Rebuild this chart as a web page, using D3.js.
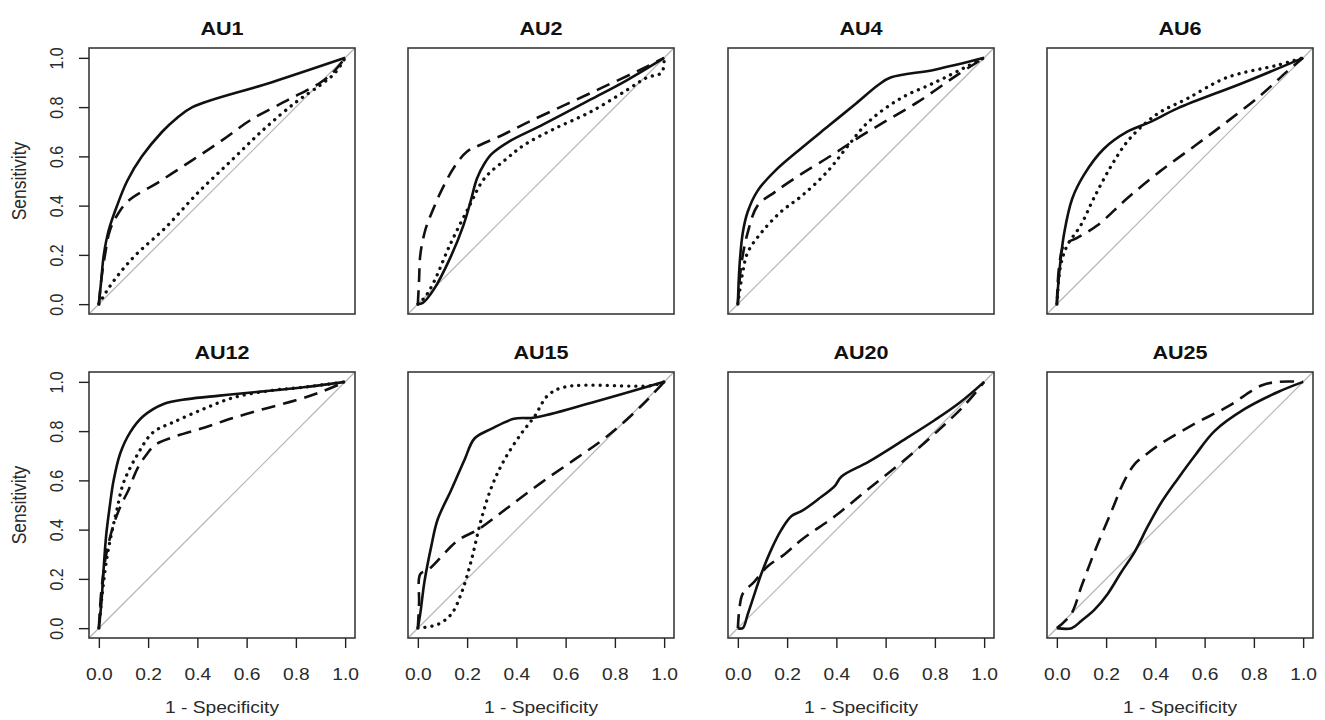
<!DOCTYPE html>
<html>
<head>
<meta charset="utf-8">
<script src="https://cdn.jsdelivr.net/npm/d3@7"></script>
<style>
  body { margin: 0; background: #fff; }
  text { font-family: "Liberation Sans", Arial, sans-serif; }
</style>
</head>
<body>
<div id="chart"></div>
<script>
// ROC curves per action unit: [1 - specificity, sensitivity]
const panelNames = ['AU1', 'AU2', 'AU4', 'AU6', 'AU12', 'AU15', 'AU20', 'AU25'];
const tickValues = [0, 0.2, 0.4, 0.6, 0.8, 1.0];

const au1Solid = [[0,0],[0.01,0.1],[0.02,0.2],[0.04,0.3],[0.074,0.4],[0.115,0.5],[0.175,0.6],[0.257,0.7],[0.31,0.75],[0.38,0.8],[0.7,0.9],[1,1]];
const au1Dashed = [[0,0],[0.01,0.1],[0.025,0.2],[0.045,0.3],[0.08,0.37],[0.12,0.42],[0.25,0.5],[0.38,0.585],[0.5,0.665],[0.62,0.75],[0.77,0.83],[0.9,0.9],[0.95,0.94],[1,1]];
const au1Dotted = [[0,0],[0.03,0.05],[0.08,0.12],[0.15,0.2],[0.27,0.31],[0.4,0.45],[0.54,0.585],[0.67,0.71],[0.8,0.82],[0.9,0.89],[0.96,0.94],[1,1]];

const au2Solid = [[0,0],[0.02,0.005],[0.065,0.06],[0.13,0.185],[0.185,0.32],[0.215,0.42],[0.24,0.51],[0.27,0.57],[0.3,0.61],[0.37,0.66],[0.5,0.725],[0.7,0.83],[0.85,0.91],[1,1]];
const au2Dashed = [[0,0],[0.005,0.1],[0.01,0.2],[0.03,0.3],[0.06,0.38],[0.1,0.47],[0.15,0.56],[0.2,0.62],[0.25,0.645],[0.35,0.69],[0.45,0.74],[0.6,0.81],[0.75,0.88],[0.9,0.95],[1,1]];
const au2Dotted = [[0,0],[0.03,0.03],[0.065,0.09],[0.13,0.24],[0.21,0.4],[0.27,0.51],[0.36,0.59],[0.43,0.645],[0.55,0.71],[0.7,0.78],[0.85,0.87],[0.93,0.92],[0.99,0.94],[1,1]];

const au4Solid = [[0,0],[0.007,0.16],[0.02,0.29],[0.04,0.375],[0.08,0.46],[0.15,0.54],[0.26,0.635],[0.37,0.725],[0.48,0.815],[0.57,0.89],[0.62,0.92],[0.8,0.952],[1,1]];
const au4Dashed = [[0,0],[0.014,0.16],[0.04,0.29],[0.08,0.4],[0.15,0.455],[0.26,0.53],[0.39,0.61],[0.48,0.67],[0.595,0.74],[0.73,0.82],[0.89,0.93],[1,1]];
const au4Dotted = [[0,0],[0.02,0.13],[0.04,0.21],[0.095,0.29],[0.175,0.375],[0.26,0.44],[0.365,0.54],[0.445,0.64],[0.53,0.74],[0.66,0.835],[0.8,0.9],[0.92,0.96],[1,1]];

const au6Solid = [[0,0],[0.01,0.13],[0.03,0.29],[0.063,0.43],[0.11,0.525],[0.19,0.63],[0.286,0.7],[0.38,0.74],[0.49,0.795],[0.76,0.9],[1,1]];
const au6Dashed = [[0,0],[0.01,0.16],[0.03,0.24],[0.084,0.27],[0.165,0.32],[0.286,0.43],[0.42,0.54],[0.57,0.65],[0.69,0.74],[0.83,0.85],[0.934,0.944],[1,1]];
const au6Dotted = [[0,0],[0.016,0.16],[0.043,0.24],[0.097,0.32],[0.15,0.43],[0.22,0.56],[0.286,0.66],[0.354,0.73],[0.42,0.78],[0.53,0.835],[0.69,0.92],[0.894,0.97],[1,1]];

const au12Solid = [[0,0],[0.01,0.1],[0.02,0.25],[0.03,0.38],[0.045,0.5],[0.06,0.6],[0.087,0.71],[0.127,0.795],[0.18,0.86],[0.263,0.91],[0.36,0.93],[0.49,0.944],[0.63,0.958],[0.83,0.978],[1,1]];
const au12Dashed = [[0,0],[0.01,0.15],[0.03,0.3],[0.06,0.42],[0.09,0.5],[0.12,0.56],[0.155,0.645],[0.19,0.7],[0.23,0.745],[0.3,0.775],[0.43,0.815],[0.55,0.855],[0.67,0.89],[0.8,0.925],[0.9,0.958],[1,1]];
const au12Dotted = [[0,0],[0.015,0.15],[0.035,0.3],[0.055,0.4],[0.073,0.48],[0.1,0.59],[0.154,0.7],[0.22,0.795],[0.3,0.835],[0.425,0.89],[0.55,0.937],[0.7,0.965],[0.83,0.978],[1,1]];

const au15Solid = [[0,0],[0.01,0.06],[0.027,0.19],[0.054,0.33],[0.08,0.44],[0.135,0.56],[0.19,0.685],[0.23,0.77],[0.3,0.81],[0.39,0.85],[0.475,0.855],[0.705,0.915],[1,1]];
const au15Dashed = [[0,0],[0.005,0.1],[0.01,0.22],[0.04,0.235],[0.163,0.357],[0.244,0.4],[0.366,0.49],[0.5,0.59],[0.637,0.685],[0.77,0.78],[0.91,0.905],[1,1]];
const au15Dotted = [[0,0],[0.08,0.015],[0.135,0.056],[0.176,0.14],[0.217,0.275],[0.257,0.44],[0.3,0.575],[0.352,0.685],[0.42,0.79],[0.474,0.86],[0.528,0.945],[0.6,0.98],[0.95,0.985],[1,1]];

const au20Solid = [[0,0],[0.02,0],[0.04,0.056],[0.068,0.14],[0.095,0.22],[0.136,0.32],[0.177,0.4],[0.218,0.455],[0.26,0.476],[0.327,0.524],[0.395,0.579],[0.42,0.615],[0.53,0.675],[0.667,0.76],[0.8,0.845],[0.9,0.915],[1,1]];
const au20Dashed = [[0,0],[0.007,0.084],[0.02,0.14],[0.068,0.19],[0.12,0.25],[0.19,0.3],[0.26,0.36],[0.395,0.455],[0.53,0.565],[0.667,0.675],[0.8,0.79],[0.925,0.91],[1,1]];

const au25Solid = [[0,0],[0.06,0],[0.1,0.03],[0.153,0.075],[0.207,0.14],[0.26,0.225],[0.316,0.31],[0.37,0.415],[0.424,0.51],[0.49,0.605],[0.56,0.7],[0.64,0.8],[0.763,0.89],[0.9,0.96],[1,1]];
const au25Dashed = [[0,0],[0.058,0.057],[0.1,0.17],[0.153,0.31],[0.22,0.47],[0.275,0.6],[0.316,0.666],[0.356,0.7],[0.424,0.75],[0.56,0.83],[0.695,0.9],[0.83,0.985],[0.9,1],[1,1]];

const panelSeries = [
  [au1Solid, au1Dashed, au1Dotted],
  [au2Solid, au2Dashed, au2Dotted],
  [au4Solid, au4Dashed, au4Dotted],
  [au6Solid, au6Dashed, au6Dotted],
  [au12Solid, au12Dashed, au12Dotted],
  [au15Solid, au15Dashed, au15Dotted],
  [au20Solid, au20Dashed],
  [au25Solid, au25Dashed]
];

// line styles: solid, dashed, dotted
const dashStyles = [null, '14,8', '0.1,7'];

const width = 1325, height = 720;
const boxSize = 266;
const colLeft = [89, 408, 728, 1047];
const rowTop = [48, 372];
const stretch = 1.2; // text in the source is a bit wider than tall

const svg = d3.select('#chart').append('svg')
  .attr('width', width)
  .attr('height', height);

panelNames.forEach((name, i) => {
  const col = i % 4, row = Math.floor(i / 4);
  const L = colLeft[col], T = rowTop[row];

  const x = d3.scaleLinear().domain([-0.04, 1.04]).range([L, L + boxSize]);
  const y = d3.scaleLinear().domain([-0.04, 1.04]).range([T + boxSize, T]);

  const g = svg.append('g');

  // reference diagonal
  g.append('line')
    .attr('x1', x(-0.04)).attr('y1', y(-0.04))
    .attr('x2', x(1.04)).attr('y2', y(1.04))
    .attr('stroke', '#b4b4b4')
    .attr('stroke-width', 1.2);

  const line = d3.line()
    .x(d => x(d[0]))
    .y(d => y(d[1]))
    .curve(d3.curveCatmullRom.alpha(0.5));

  panelSeries[i].forEach((pts, k) => {
    g.append('path')
      .datum(pts)
      .attr('d', line)
      .attr('fill', 'none')
      .attr('stroke', '#111')
      .attr('stroke-width', k === 2 ? 3.3 : 2.6)
      .attr('stroke-linecap', k === 2 ? 'round' : 'butt')
      .attr('stroke-linejoin', 'round')
      .attr('stroke-dasharray', dashStyles[k]);
  });

  // plot frame
  g.append('rect')
    .attr('x', L).attr('y', T)
    .attr('width', boxSize).attr('height', boxSize)
    .attr('fill', 'none')
    .attr('stroke', '#3a3a3a')
    .attr('stroke-width', 1.6);

  // title
  g.append('text')
    .attr('transform', `translate(${L + boxSize / 2},${T - 13}) scale(${stretch},1)`)
    .attr('text-anchor', 'middle')
    .attr('font-size', 18)
    .attr('font-weight', 'bold')
    .attr('fill', '#111')
    .text(name);

  if (col === 0) {
    const ay = g.append('g')
      .attr('transform', `translate(${L},0)`)
      .call(d3.axisLeft(y).tickValues(tickValues).tickSize(10).tickSizeOuter(0).tickFormat(d3.format('.1f')));
    ay.select('.domain').remove();
    ay.selectAll('.tick line').attr('stroke', '#222').attr('stroke-width', 1.4);
    ay.selectAll('.tick text')
      .attr('x', null).attr('dy', null)
      .attr('transform', `translate(-26,0) scale(${stretch},1) rotate(-90)`)
      .attr('text-anchor', 'middle')
      .attr('font-size', 16)
      .attr('font-family', '"Liberation Sans", Arial, sans-serif')
      .attr('fill', '#2a2a2a');

    g.append('text')
      .attr('transform', `translate(${L - 63},${T + boxSize / 2}) scale(${stretch},1) rotate(-90)`)
      .attr('text-anchor', 'middle')
      .attr('font-size', 17.5)
      .attr('fill', '#2a2a2a')
      .text('Sensitivity');
  }

  if (row === 1) {
    const ax = g.append('g')
      .attr('transform', `translate(0,${T + boxSize})`)
      .call(d3.axisBottom(x).tickValues(tickValues).tickSize(10).tickSizeOuter(0).tickFormat(d3.format('.1f')));
    ax.select('.domain').remove();
    ax.selectAll('.tick line').attr('stroke', '#222').attr('stroke-width', 1.4);
    ax.selectAll('.tick text')
      .attr('y', null).attr('dy', null)
      .attr('transform', `translate(0,42) scale(${stretch},1)`)
      .attr('text-anchor', 'middle')
      .attr('font-size', 16)
      .attr('font-family', '"Liberation Sans", Arial, sans-serif')
      .attr('fill', '#2a2a2a');

    g.append('text')
      .attr('transform', `translate(${L + boxSize / 2},${T + boxSize + 75}) scale(${stretch},1)`)
      .attr('text-anchor', 'middle')
      .attr('font-size', 16)
      .attr('fill', '#2a2a2a')
      .text('1 - Specificity');
  }
});
</script>
</body>
</html>
